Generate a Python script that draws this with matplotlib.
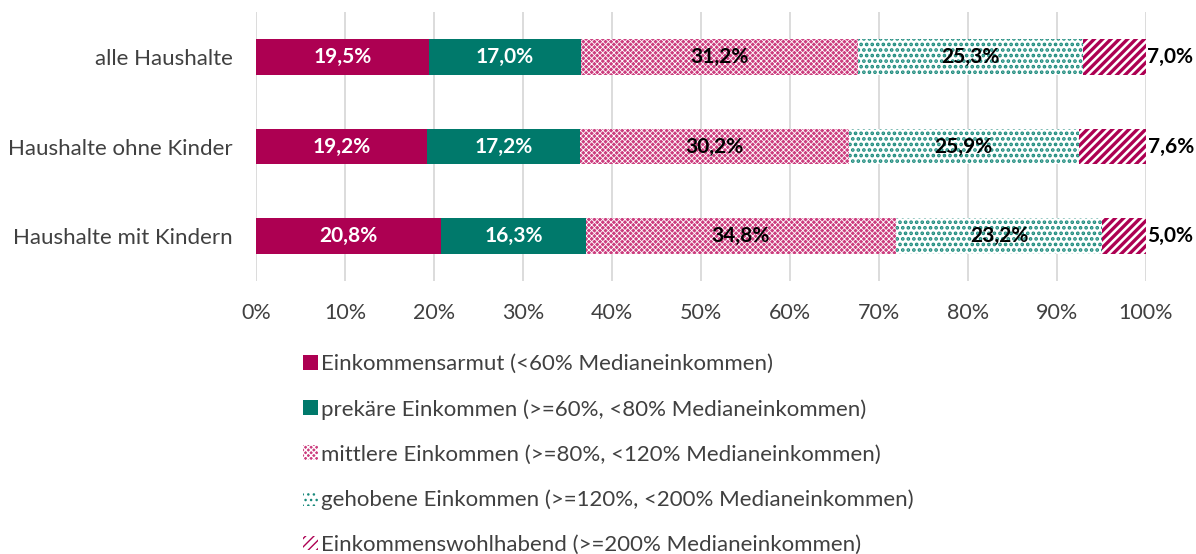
import matplotlib.pyplot as plt
import numpy as np

categories = ['alle Haushalte', 'Haushalte ohne Kinder', 'Haushalte mit Kindern']
series_names = ['Einkommensarmut (<60% Medianeinkommen)',
                'prekäre Einkommen (>=60%, <80% Medianeinkommen)',
                'mittlere Einkommen (>=80%, <120% Medianeinkommen)',
                'gehobene Einkommen (>=120%, <200% Medianeinkommen)',
                'Einkommenswohlhabend (>=200% Medianeinkommen)']
armut = [19.5, 19.2, 20.8]
prekaer = [17.0, 17.2, 16.3]
mittlere = [31.2, 30.2, 34.8]
gehobene = [25.3, 25.9, 23.2]
wohlhabend = [7.0, 7.6, 5.0]

magenta = '#AD0052'
teal = '#00796B'

plt.rcParams['font.family'] = ['Lato', 'DejaVu Sans']

fig = plt.figure(figsize=(11.96, 5.54), dpi=100)
ax = fig.add_axes([0.214, 0.493, 0.744, 0.485])

y = np.arange(len(categories))
values = [armut, prekaer, mittlere, gehobene, wohlhabend]
styles = [
    dict(color=magenta),
    dict(color=teal),
    dict(facecolor='#cc3d7e', edgecolor='white', hatch='xxxxxx', lw=0),
    dict(facecolor='white', edgecolor='#1a8a7c', hatch='...', lw=0),
    dict(facecolor='white', edgecolor=magenta, hatch='////', lw=0),
]
hatch_lw = [1, 1, 0.6, 1.8, 2.4]

left = np.zeros(len(categories))
for i, (vals, st) in enumerate(zip(values, styles)):
    with plt.rc_context({'hatch.linewidth': hatch_lw[i]}):
        bars = ax.barh(y, vals, left=left, height=0.4, label=series_names[i], **st)
    for j, v in enumerate(vals):
        txt = f'{v:.1f}%'.replace('.', ',')
        if i == 4:
            ax.text(left[j] + v + 0.1, y[j], txt, ha='left', va='center',
                    fontsize=15, fontweight='bold', color='black')
        else:
            ax.text(left[j] + v / 2, y[j], txt, ha='center', va='center',
                    fontsize=15, fontweight='bold',
                    color='white' if i < 2 else 'black')
    left += np.array(vals)

ax.set_xlim(0, 100)
ax.set_ylim(2.5, -0.5)
ax.set_yticks(y)
ax.set_yticklabels(categories, fontsize=16, color='#404040')
ax.set_xticks(np.arange(0, 101, 10))
ax.set_xticklabels([f'{t}%' for t in range(0, 101, 10)], fontsize=15.5, color='#404040')
ax.grid(axis='x', color='#d9d9d9', lw=1.3)
ax.set_axisbelow(True)
for s in ax.spines.values():
    s.set_visible(False)
ax.tick_params(length=0)
ax.tick_params(axis='y', pad=16.5)
ax.tick_params(axis='x', pad=16)

handles, labels = ax.get_legend_handles_labels()
fig.legend(handles, labels, loc='upper left', bbox_to_anchor=(0.237, 0.397),
           frameon=False, fontsize=16, labelspacing=1.12, handlelength=0.65,
           handleheight=0.65, handletextpad=0.15, labelcolor='#404040')

fig.savefig('out.png', dpi=100)
